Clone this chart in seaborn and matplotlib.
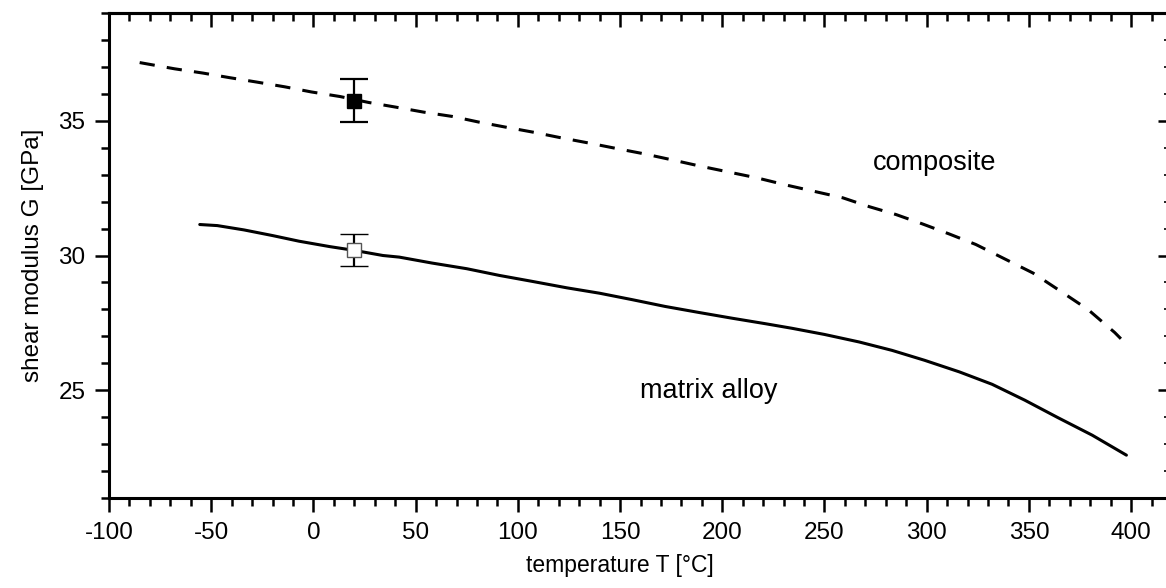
import numpy as np
import pandas as pd
import seaborn as sns
import matplotlib.pyplot as plt
from matplotlib.ticker import MultipleLocator

# values
comp_T = [-85, -68, -54, -41, -28, -14, -1, 13, 27, 40, 54, 68, 81, 95, 108, 121, 135, 149,
          162, 176, 189, 203, 217, 231, 245, 259, 272, 285, 298, 311, 324, 338, 352, 365,
          379, 392, 395]
comp_G = [37.16, 36.93, 36.77, 36.6, 36.44, 36.26, 36.07, 35.9, 35.68, 35.51, 35.32, 35.16,
          34.95, 34.75, 34.57, 34.37, 34.17, 33.96, 33.77, 33.54, 33.32, 33.1, 32.88, 32.62,
          32.38, 32.14, 31.81, 31.52, 31.17, 30.8, 30.41, 29.88, 29.35, 28.7, 27.99, 27.14,
          26.91]

matrix_T = [-55.6, -47, -34, -20, -7, 8, 20, 34, 42, 58, 75, 91, 107, 124, 140, 156, 172,
            189, 205, 221, 234, 250, 267, 283, 299, 316, 332, 348, 364, 381, 397.7]
matrix_G = [31.15, 31.11, 30.95, 30.74, 30.53, 30.33, 30.19, 30.0, 29.94, 29.72, 29.51,
            29.26, 29.04, 28.8, 28.6, 28.36, 28.11, 27.88, 27.67, 27.47, 27.3, 27.07, 26.79,
            26.48, 26.11, 25.68, 25.22, 24.63, 23.99, 23.33, 22.59]

# measured points at room temperature with error bars
meas_T = [20, 20]
meas_G = [35.75, 30.2]
meas_err = [0.8, 0.6]

xticks = [-100, -50, 0, 50, 100, 150, 200, 250, 300, 350, 400]
yticks = [25, 30, 35]

sns.set_style("ticks", rc={'axes.edgecolor': 'black', 'xtick.color': 'black',
                           'ytick.color': 'black', 'text.color': 'black',
                           'axes.labelcolor': 'black'})
plt.rcParams['font.family'] = ['Liberation Sans', 'DejaVu Sans']
plt.rcParams['axes.unicode_minus'] = False

df_comp = pd.DataFrame({'T': comp_T, 'G': comp_G})
df_mat = pd.DataFrame({'T': matrix_T, 'G': matrix_G})

fig = plt.figure(figsize=(11.66, 5.88), dpi=100)
ax = fig.add_axes([109 / 1166, 1 - 498 / 588, (1172 - 109) / 1166, (498 - 13) / 588])

sns.lineplot(data=df_comp, x='T', y='G', ax=ax, color='black', lw=2.2,
             linestyle=(0, (5, 4)), sort=False)
sns.lineplot(data=df_mat, x='T', y='G', ax=ax, color='black', lw=2.2, sort=False)

# filled square = composite, open square = matrix
ax.errorbar(meas_T[0], meas_G[0], yerr=meas_err[0], fmt='s', ms=10, mfc='black',
            mec='black', ecolor='black', elinewidth=1.6, capsize=10, capthick=1.6, zorder=5)
ax.errorbar(meas_T[1], meas_G[1], yerr=meas_err[1], fmt='s', ms=10, mfc='white',
            mec='#555555', mew=1.0, ecolor='black', elinewidth=1.6, capsize=10, capthick=1.6, zorder=5)

ax.text(304, 33.45, 'composite', ha='center', va='center', fontsize=19.5)
ax.text(193.5, 24.98, 'matrix alloy', ha='center', va='center', fontsize=19.5)

ax.set_xlim(-100, 420)
ax.set_ylim(21, 39)
ax.set_xticks(xticks)
ax.set_yticks(yticks)
ax.xaxis.set_minor_locator(MultipleLocator(10))
ax.yaxis.set_minor_locator(MultipleLocator(1))
ax.set_xlabel('temperature T [°C]', fontsize=16.5)
ax.set_ylabel('shear modulus G [GPa]', fontsize=17.5, labelpad=10)
ax.xaxis.set_label_coords((620 - 109) / (1172 - 109), -0.115)

for s in ax.spines.values():
    s.set_linewidth(2.2)
ax.tick_params(which='major', direction='out', length=10, width=1.8, labelsize=17.5, pad=7)
ax.tick_params(which='minor', direction='out', length=6, width=1.8)

# top and right: ticks pointing inward, no labels
top = ax.secondary_xaxis('top')
top.set_xticks(xticks)
top.xaxis.set_minor_locator(MultipleLocator(10))
top.tick_params(which='major', direction='in', length=10, width=1.8, labeltop=False)
top.tick_params(which='minor', direction='in', length=6, width=1.8)
top.spines['top'].set_linewidth(2.2)

right = ax.secondary_yaxis('right')
right.set_yticks(yticks)
right.yaxis.set_minor_locator(MultipleLocator(1))
right.tick_params(which='major', direction='in', length=10, width=1.8, labelright=False)
right.tick_params(which='minor', direction='in', length=6, width=1.2)
right.spines['right'].set_linewidth(2.2)

fig.savefig('out.png', dpi=100)
